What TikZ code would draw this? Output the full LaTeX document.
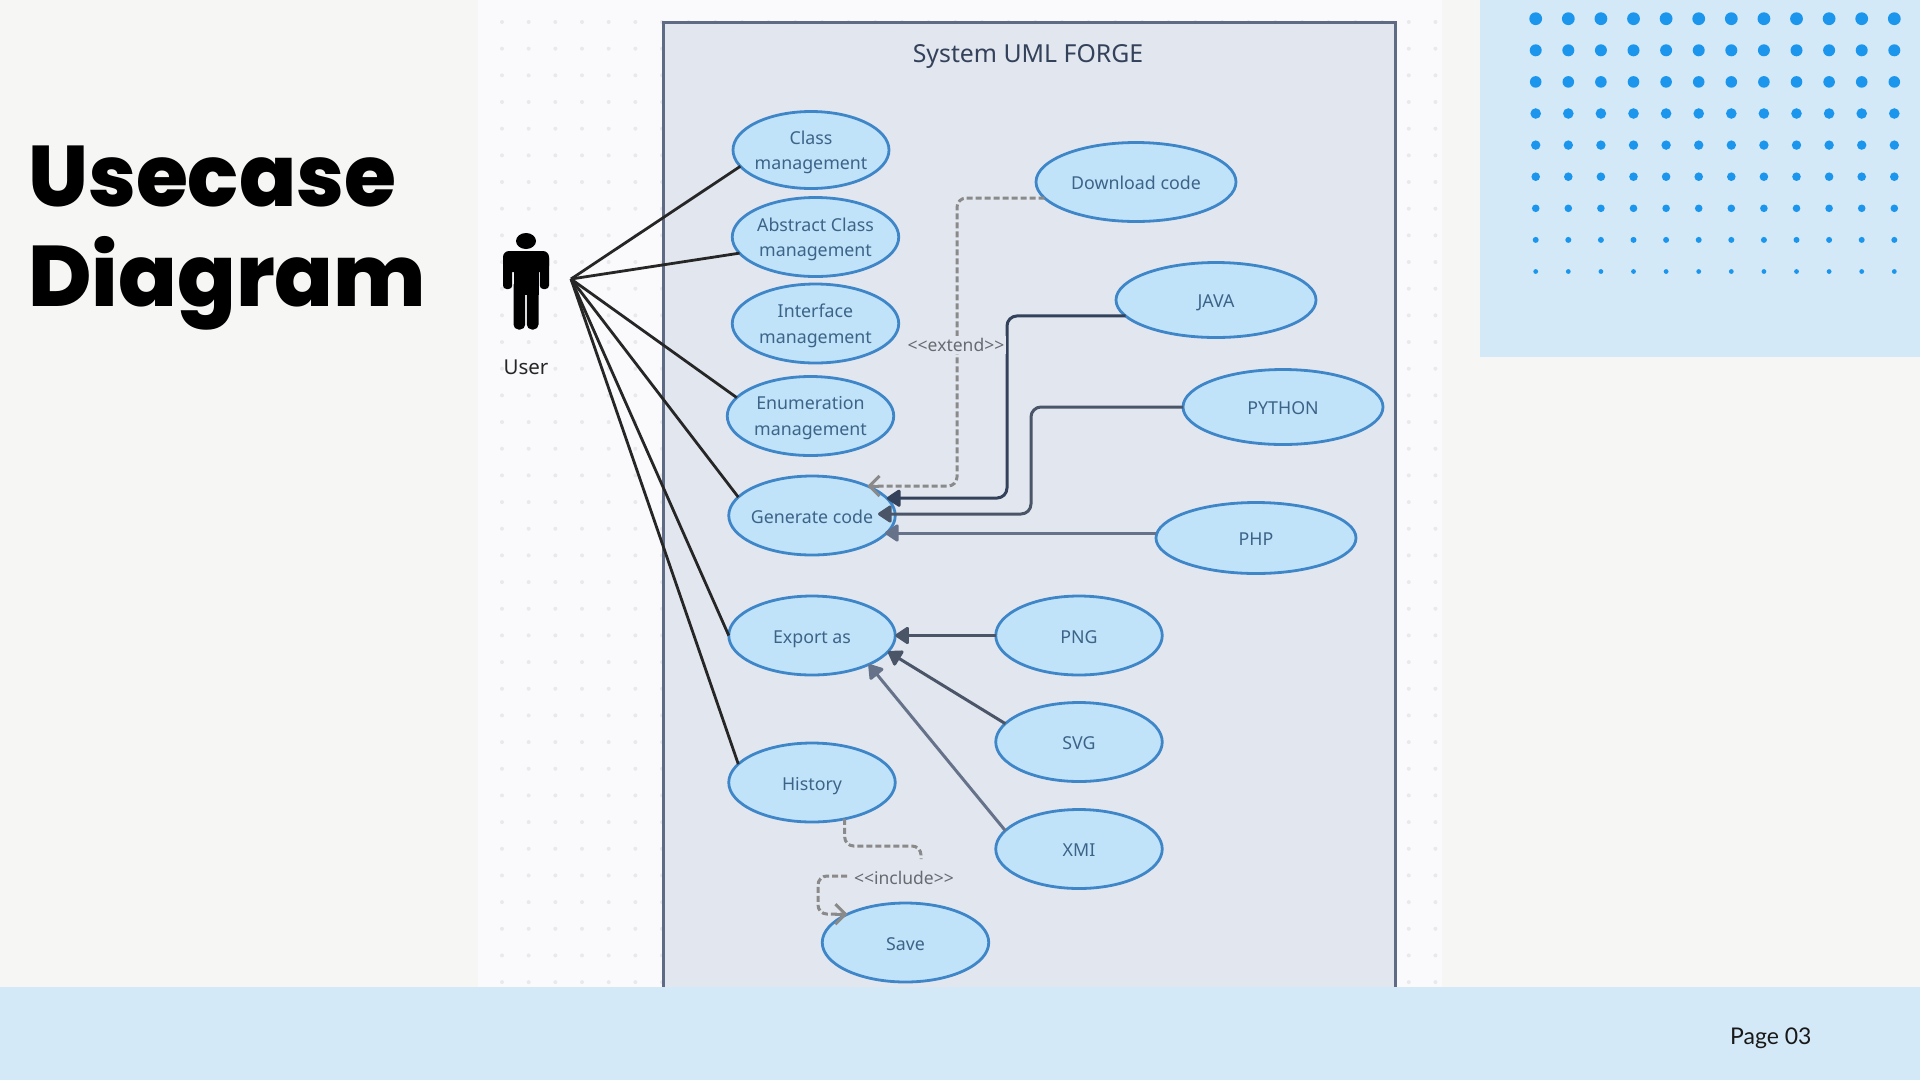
\documentclass[tikz,border=0pt]{standalone}
\usepackage{fontspec}
\usepackage{graphicx}
\setmainfont{Noto Sans}
\newfontfamily\titlefont{Poppins ExtraBold}
\newfontfamily\pagefont{Lato}
\usetikzlibrary{shapes.geometric,arrows.meta}
\definecolor{pagebg}{HTML}{F6F6F4}
\definecolor{panelbg}{HTML}{FAFAFC}
\definecolor{griddot}{HTML}{E7E9ED}
\definecolor{bandblue}{HTML}{D3E9F8}
\definecolor{dotblue}{HTML}{1C96EC}
\definecolor{framefill}{HTML}{E2E7EF}
\definecolor{frameline}{HTML}{5F6B84}
\definecolor{ucfill}{HTML}{C0E3F9}
\definecolor{ucline}{HTML}{3E86C8}
\definecolor{uctext}{HTML}{3C6488}
\definecolor{darkarrow}{HTML}{33415A}
\definecolor{midarrow}{HTML}{4A5568}
\definecolor{softarrow}{HTML}{66728A}
\definecolor{dashgray}{HTML}{8A8A8A}
\definecolor{labgray}{HTML}{666B72}
\newcommand{\ucfirst}{\rule{0pt}{21.4pt}}
\newcommand{\uclast}{\rule[-6pt]{0pt}{6pt}}
\newcommand{\uctop}{\rule{0pt}{22.4pt}}
\newcommand{\nw}[1]{\makebox[40pt]{#1}}
\newcommand{\nwlast}[1]{\smash{\makebox[40pt]{#1}}}
\tikzset{
  ucbase/.style={ellipse,draw=ucline,fill=ucfill,line width=2.8pt,inner sep=0pt,outer sep=0pt,
    minimum width=166.5pt,minimum height=79pt,align=center,text=uctext,
    font=\fontsize{17.8}{25.5}\selectfont},
  usecase/.style={ucbase,execute at begin node=\ucfirst,execute at end node=\uclast},
  twocase/.style={ucbase,execute at begin node=\uctop},
  widecase/.style={usecase,minimum width=200pt,minimum height=75pt},
  assoc/.style={line width=2.8pt,draw=black!85},
  solidarrow/.style={line width=3pt,rounded corners=10pt,-{Triangle[length=15pt,width=19pt,round]}},
  dashedarrow/.style={line width=3pt,draw=dashgray,dash pattern=on 6pt off 3pt,rounded corners=9pt},
  barbtip/.style={dashgray,line width=3pt,-{Straight Barb[length=10pt,width=20pt]}},
  stereo/.style={text=labgray,font=\fontsize{17.5}{20}\selectfont,inner sep=2pt},
  titletext/.style={anchor=base west,inner sep=0pt,font=\titlefont\fontsize{86}{100}\selectfont}
}
\begin{document}
\begin{tikzpicture}[x=1pt,y=-1pt]
\useasboundingbox (0,0) rectangle (1920,1080);
\fill[pagebg] (0,0) rectangle (1920,1080);
\fill[panelbg] (478,0) rectangle (1442,987);
\foreach \i in {0,...,35}{\foreach \j in {0,...,36}{
  \fill[griddot] (502+\i*26.67,22+\j*26.67) circle (2pt);}}
% right decoration
\fill[bandblue] (1480,0) rectangle (1920,357);
\begin{scope}
\clip (1480,0) rectangle (1920,273);
\foreach \r [count=\j from 0] in {6.4,6.0,5.8,5.3,4.7,4.3,3.8,3.0,2.4}{
  \foreach \i in {0,...,11}{
    \fill[dotblue] (1535.7+\i*32.6,18.7+\j*31.6) circle (\r pt);}}
\end{scope}
% system frame
\draw[frameline,fill=framefill,line width=3pt] (663,22) rectangle (1395,1010);
\node[text=darkarrow,font=\fontsize{24.8}{28}\selectfont] (sys) at (1028,56) {System UML FORGE};
% title
\node[titletext] (t1) at (28,206) {\scalebox{0.98}[1]{Usecase}};
\node[titletext] (t2) at (28,306) {\scalebox{1.006}[1]{Diagram}};
% actor
\fill[black] (526,241) ellipse (10pt and 8pt);
\fill[black,rounded corners=6pt] (503,251) rectangle (549,272);
\fill[black,rounded corners=3.5pt] (503,255) rectangle (512.2,289);
\fill[black,rounded corners=3.5pt] (539.8,255) rectangle (549,289);
\fill[black] (513.5,251) rectangle (538.5,295);
\fill[black,rounded corners=5pt] (513.5,280) rectangle (525.2,329.5);
\fill[black,rounded corners=5pt] (526.8,280) rectangle (538.5,329.5);
\node[text=black!85,font=\fontsize{20.5}{24}\selectfont,inner sep=0pt] (user) at (526,367) {User};
\coordinate (actor) at (571,279);
% use cases
\node[twocase,minimum width=156pt,minimum height=77pt] (cm) at (811,150) {Class\\\nwlast{management}};
\node[twocase] (acm) at (815.5,237) {\nw{Abstract Class}\\\nwlast{management}};
\node[twocase] (im) at (815.5,323.5) {Interface\\\nwlast{management}};
\node[twocase] (em) at (810.5,416) {Enumeration\\\nwlast{management}};
\node[usecase] (gen) at (812,515.5) {\nw{Generate code}};
\node[usecase] (exp) at (812,635.5) {Export as};
\node[usecase] (hist) at (812,782.5) {History};
\node[usecase] (save) at (905.5,942.5) {Save};
\node[usecase] (png) at (1079,635.5) {PNG};
\node[usecase] (svg) at (1079,742) {SVG};
\node[usecase] (xmi) at (1079,849) {XMI};
\node[widecase,minimum height=79pt] (dl) at (1136,182) {\nw{Download code}};
\node[widecase] (java) at (1216,300) {JAVA};
\node[widecase] (py) at (1283,407) {PYTHON};
\node[widecase,minimum height=71pt] (php) at (1256,538) {PHP};
% associations
\foreach \t/\a in {cm/193.5,acm/192.7,em/166.6,gen/166.7,exp/180,hist/166.9}
  \draw[assoc] (actor) -- (\t.\a);
% generalisations
\coordinate (jbend) at (1007,498);
\coordinate (pbend) at (1031,514);
\coordinate (ptip) at (878,514);
\coordinate (phptip) at (885,533);
\draw[solidarrow,darkarrow] (java.190) -| (jbend) -- (gen.13);
\draw[solidarrow,midarrow] (py.west) -| (pbend) -- (ptip);
\draw[solidarrow,softarrow] (php.west |- phptip) -- (phptip);
\draw[solidarrow,midarrow] (png.west) -- (exp.east);
\draw[solidarrow,midarrow] (svg.166.7) -- (exp.-12.7);
\draw[solidarrow,softarrow] (xmi.166.5) -- (exp.-27.4);
% extend
\coordinate (dbend2) at (957,486);
\draw[dashedarrow] (dl.190.8) -| (dbend2) -- (gen.28);
\draw[barbtip] ([xshift=12pt]gen.28) -- (gen.28);
\node[stereo,fill=framefill] (ext) at (956,345) {<{}<extend>{}>};
% include
\coordinate (ia) at (921,846);
\coordinate (ib) at (921,859);
\coordinate (ic) at (847,876);
\coordinate (id) at (818,876);
\coordinate (ie) at (818,914);
\node[stereo] (inc) at (904,878) {<{}<include>{}>};
\draw[dashedarrow] (hist.-48) |- (ia) -- (ib);
\draw[dashedarrow] (ic) -- (id) -- (ie) -- (save.154);
\draw[barbtip] ([xshift=-12pt]save.154) -- (save.154);
% bottom band
\fill[bandblue] (0,987) rectangle (1920,1080);
\node[anchor=base west,inner sep=0pt,text=black!90,font=\pagefont\fontsize{23}{26}\selectfont] (pg) at (1730,1044) {Page 03};
\end{tikzpicture}
\end{document}
